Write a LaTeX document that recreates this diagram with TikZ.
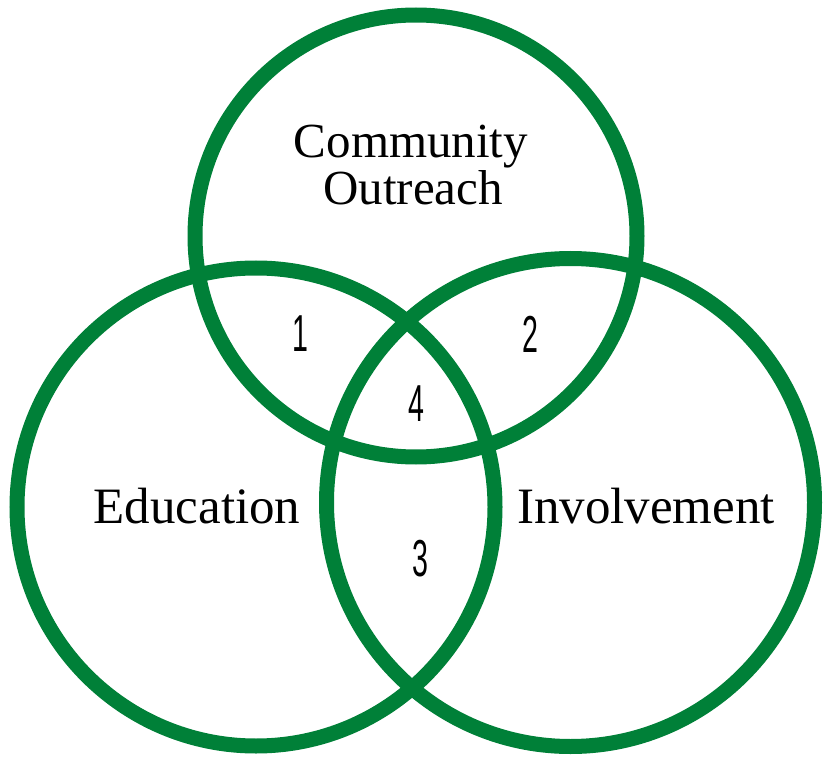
\documentclass[tikz,border=0pt]{standalone}
\usepackage{fontspec}
\setmainfont{Liberation Serif}
\newfontfamily\digitfont{Liberation Sans}
\definecolor{ringgreen}{RGB}{0,128,56}

\begin{document}
\begin{tikzpicture}[x=1pt,y=-1pt,
  ring/.style={ringgreen,line width=15pt},
  areatitle/.style={anchor=base,inner sep=0pt,font=\fontsize{#1}{45}\selectfont},
  regionnum/.style={inner sep=0pt,xscale=0.55,font=\digitfont\fontsize{52}{52}\selectfont}]
\path[use as bounding box] (0,0) rectangle (823,757);
\draw[ring] (416,236) circle (221pt);
\draw[ring] (256,507) circle (239pt);
\draw[ring] (570.5,502.5) circle (244pt);
\node[areatitle=49] (comm) at (411,158) {Community};
\node[areatitle=49] (outr) at (413,205) {Outreach};
\node[areatitle=51] (edu) at (197,523) {Education};
\node[areatitle=51] (inv) at (646,523) {Involvement};
\node[regionnum] (one) at (300,334) {1};
\node[regionnum] (two) at (530,334) {2};
\node[regionnum] (four) at (416,404) {4};
\node[regionnum] (three) at (420,559) {3};
\end{tikzpicture}
\end{document}
